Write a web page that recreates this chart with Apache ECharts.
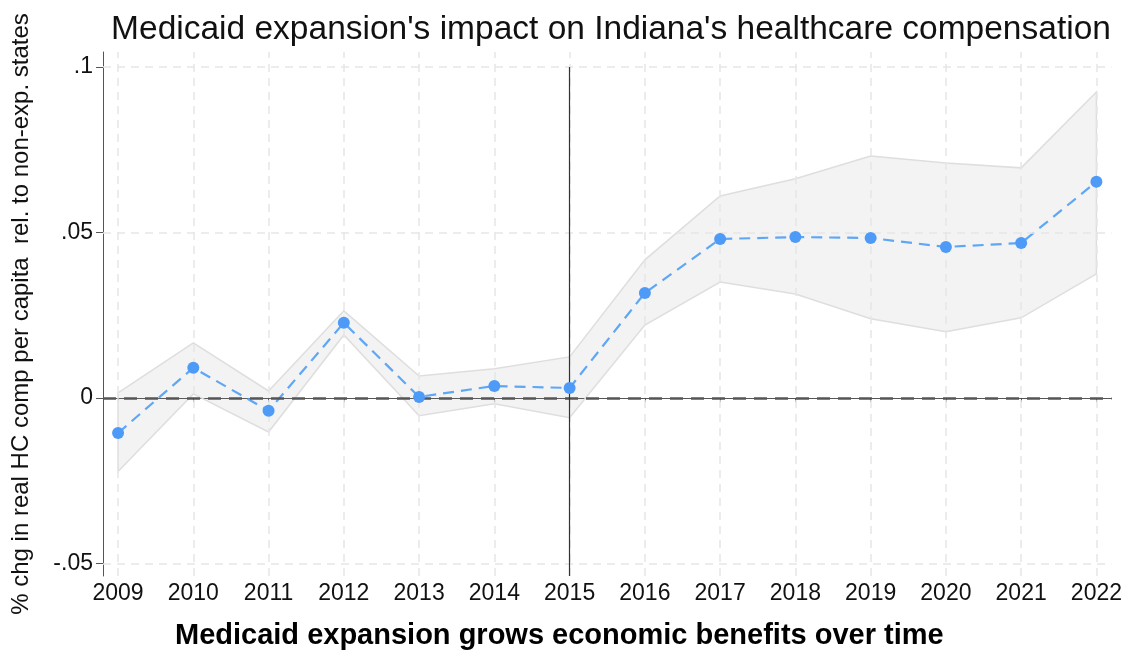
<!DOCTYPE html>
<html>
<head>
<meta charset="utf-8">
<script src="https://cdn.jsdelivr.net/npm/echarts@6.0.0/dist/echarts.min.js"></script>
<style>
html,body{margin:0;padding:0;background:#fff;}
#chart{width:1125px;height:654px;}
</style>
</head>
<body>
<div id="chart"></div>
<script>
var years = [2009, 2010, 2011, 2012, 2013, 2014, 2015, 2016, 2017, 2018, 2019, 2020, 2021, 2022];
var estimate = [-0.0106, 0.0091, -0.0039, 0.0227, 0.0003, 0.0036, 0.0030, 0.0317, 0.0480, 0.0486, 0.0483, 0.0456, 0.0468, 0.0653];
var upperCI = [0.0015, 0.0166, 0.0021, 0.0263, 0.0066, 0.0088, 0.0124, 0.0417, 0.0610, 0.0662, 0.0731, 0.0710, 0.0695, 0.0924];
var lowerCI = [-0.0222, 0.0012, -0.0103, 0.0190, -0.0054, -0.0018, -0.0060, 0.0220, 0.0350, 0.0314, 0.0239, 0.0200, 0.0242, 0.0375];
var yTicks = [-0.05, 0, 0.05, 0.1];
var yTickLabels = ['-.05', '0', '.05', '.1'];
var expansionYear = 2015;

var titleText = "Medicaid expansion's impact on Indiana's healthcare compensation";
var xTitle = 'Medicaid expansion grows economic benefits over time';
var yTitle = '% chg in real HC comp per capita  rel. to non-exp. states';

var chart = echarts.init(document.getElementById('chart'));
var FONT = '"Liberation Sans", Arial, Helvetica, sans-serif';
var yMin = -0.0538, yMax = 0.1045;

var gridLineStyle = {color: '#e6e6e6', type: [8, 6], width: 1.5};
var gridMarks = [];
years.forEach(function (y) { gridMarks.push({xAxis: y}); });
yTicks.forEach(function (v) { if (v !== 0) gridMarks.push({yAxis: v}); });

var helperData = years.map(function (y) { return [y, 0]; });
var estData = years.map(function (y, i) { return [y, estimate[i]]; });

var option = {
  backgroundColor: '#ffffff',
  animation: false,
  title: {
    text: titleText,
    left: 606,
    top: 8,
    textAlign: 'center',
    textStyle: {fontFamily: FONT, fontSize: 33.5, fontWeight: 'normal', color: '#111'}
  },
  graphic: [{
    type: 'text',
    left: 175,
    top: 621,
    style: {text: xTitle, font: 'bold 29px ' + FONT, fill: '#000'}
  }],
  grid: {left: 103, right: 13, top: 52, bottom: 78},
  xAxis: {
    type: 'value',
    min: 2008.8,
    max: 2022.2,
    axisLine: {show: true, lineStyle: {color: '#555', width: 1}},
    axisTick: {show: true, length: 4, customValues: years, lineStyle: {color: '#555'}},
    axisLabel: {customValues: years, formatter: function (v) { return String(v); },
      fontFamily: FONT, fontSize: 23, color: '#111', margin: 6},
    splitLine: {show: false}
  },
  yAxis: {
    type: 'value',
    min: yMin,
    max: yMax,
    name: yTitle,
    nameLocation: 'middle',
    nameGap: 70,
    nameTextStyle: {fontFamily: FONT, fontSize: 24, color: '#111'},
    axisLine: {show: true, lineStyle: {color: '#555', width: 1}},
    axisTick: {show: true, length: 7, customValues: yTicks, lineStyle: {color: '#555'}},
    axisLabel: {customValues: yTicks, formatter: function (v) {
        var i = yTicks.indexOf(v); return i >= 0 ? yTickLabels[i] : ''; },
      fontFamily: FONT, fontSize: 23, color: '#111', margin: 10},
    splitLine: {show: false}
  },
  series: [
    {
      type: 'line',
      name: 'grid',
      data: helperData,
      symbol: 'none',
      showSymbol: false,
      lineStyle: {opacity: 0, width: 0},
      silent: true,
      z: 1,
      markLine: {
        silent: true,
        symbol: 'none',
        label: {show: false},
        lineStyle: gridLineStyle,
        emphasis: {disabled: true},
        data: gridMarks
      }
    },
    {
      type: 'custom',
      name: 'ci',
      z: 2,
      silent: true,
      data: years.map(function (y, i) { return [y, lowerCI[i], upperCI[i]]; }),
      renderItem: function (params, api) {
        if (params.dataIndex !== 0) return null;
        var pts = [];
        for (var i = 0; i < years.length; i++) pts.push(api.coord([years[i], upperCI[i]]));
        for (var j = years.length - 1; j >= 0; j--) pts.push(api.coord([years[j], lowerCI[j]]));
        return {
          type: 'polygon',
          shape: {points: pts},
          style: {fill: 'rgba(150,150,150,0.11)', stroke: '#dedede', lineWidth: 1.5}
        };
      }
    },
    {
      type: 'line',
      name: 'refs',
      data: helperData,
      symbol: 'none',
      showSymbol: false,
      lineStyle: {opacity: 0, width: 0},
      silent: true,
      z: 3,
      markLine: {
        silent: true,
        symbol: 'none',
        label: {show: false},
        emphasis: {disabled: true},
        data: [
          {yAxis: 0, lineStyle: {color: '#555', type: [13, 8], width: 2.5}},
          [{coord: [expansionYear, 0.1], lineStyle: {color: '#333', type: 'solid', width: 1.2}},
           {coord: [expansionYear, yMin]}]
        ]
      }
    },
    {
      type: 'line',
      name: 'estimate line',
      z: 4,
      data: estData,
      symbol: 'none',
      showSymbol: false,
      silent: true,
      lineStyle: {color: '#5ea6f6', width: 2.2, type: [11, 7]}
    },
    {
      type: 'scatter',
      name: 'estimate',
      z: 5,
      data: estData,
      symbol: 'circle',
      symbolSize: 12,
      silent: true,
      itemStyle: {color: '#4e9bf7', borderWidth: 0, opacity: 1}
    }
  ]
};
chart.setOption(option);
</script>
</body>
</html>
